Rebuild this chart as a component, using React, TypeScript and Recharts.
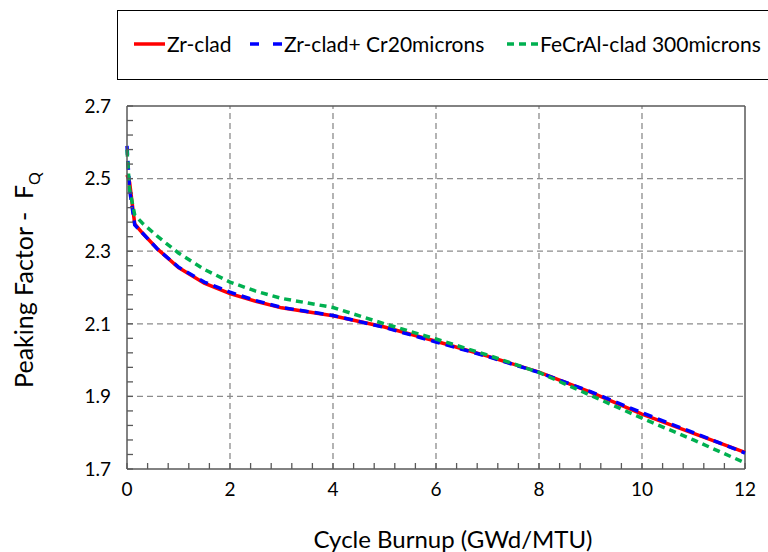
import React from 'react';
import { LineChart, Line, XAxis, YAxis, ReferenceLine } from 'recharts';

const burnup = [0, 0.05, 0.15, 0.3, 0.6, 1, 1.5, 2, 2.5, 3, 4, 5, 6, 7, 8, 9, 10, 11, 12];
const zrClad = [2.51, 2.49, 2.375, 2.35, 2.305, 2.255, 2.212, 2.183, 2.162, 2.144, 2.122, 2.091, 2.052, 2.011, 1.967, 1.912, 1.851, 1.798, 1.746];
const zrCr = [2.59, 2.47, 2.372, 2.35, 2.305, 2.256, 2.215, 2.187, 2.164, 2.145, 2.123, 2.09, 2.05, 2.01, 1.966, 1.913, 1.855, 1.8, 1.744];
const fecral = [2.58, 2.47, 2.4, 2.377, 2.34, 2.295, 2.25, 2.215, 2.19, 2.17, 2.145, 2.1, 2.058, 2.014, 1.966, 1.903, 1.84, 1.78, 1.717];

const xMajor = [0, 2, 4, 6, 8, 10, 12];
const yMajor = [1.7, 1.9, 2.1, 2.3, 2.5, 2.7];
const xMinor = Array.from({ length: 31 }, (_, i) => Math.round(i * 0.4 * 100) / 100);
const yMinor = Array.from({ length: 26 }, (_, i) => Math.round((1.7 + i * 0.04) * 100) / 100);

const data = burnup.map((b, i) => ({ b, zr: zrClad[i], cr: zrCr[i], fe: fecral[i] }));

const FONT = 'Lato, "Open Sans", sans-serif';
const AXIS = '#595959';

const isMajor = (v: number, list: number[]) => list.some((m) => Math.abs(m - v) < 1e-6);

const legendItems = [
  { label: 'Zr-clad', color: '#ff0000', dash: undefined, x: 16, w: 31 },
  { label: 'Zr-clad+ Cr20microns', color: '#0000ff', dash: '9 14', x: 132, w: 32 },
  { label: 'FeCrAl-clad 300microns', color: '#00b050', dash: '7 5', x: 389, w: 31 },
];

function LegendBox() {
  return (
    <div
      style={{
        position: 'absolute',
        left: 117,
        top: 10,
        width: 650,
        height: 68,
        border: '1px solid #000',
        background: '#fff',
        fontFamily: FONT,
        fontSize: 21,
      }}
    >
      {legendItems.map((it) => (
        <div key={it.label} style={{ position: 'absolute', left: it.x, top: 20, display: 'flex', alignItems: 'center', whiteSpace: 'nowrap' }}>
          <svg width={it.w + 2} height={10}>
            <line x1={0} x2={it.w} y1={5} y2={5} stroke={it.color} strokeWidth={3.5} strokeDasharray={it.dash} />
          </svg>
          <span style={{ color: '#000' }}>{it.label}</span>
        </div>
      ))}
    </div>
  );
}

export default function App() {
  return (
    <div style={{ position: 'absolute', left: 0, top: 0, width: 768, height: 552, background: '#fff', overflow: 'hidden' }}>
      <LineChart width={768} height={552} data={data} margin={{ top: 106, right: 23, bottom: 0, left: 0 }}>
        {xMajor.slice(1, -1).map((v) => (
          <ReferenceLine key={'vx' + v} x={v} stroke="#8c8c8c" strokeDasharray="6 4" strokeWidth={1.3} />
        ))}
        {yMajor.slice(1, -1).map((v) => (
          <ReferenceLine key={'hy' + v} y={v} stroke="#8c8c8c" strokeDasharray="6 4" strokeWidth={1.3} />
        ))}
        <ReferenceLine y={2.7} stroke={AXIS} strokeWidth={1.5} />
        <ReferenceLine x={12} stroke={AXIS} strokeWidth={1.5} />
        <XAxis
          dataKey="b"
          type="number"
          domain={[0, 12]}
          ticks={xMinor}
          interval={0}
          height={83}
          tickSize={-6}
          tickMargin={20}
          tickLine={{ stroke: AXIS, strokeWidth: 1.3 }}
          tickFormatter={(v: number) => (isMajor(v, xMajor) ? String(v) : '')}
          tick={{ fontSize: 19, fill: '#000', fontFamily: FONT }}
          axisLine={{ stroke: AXIS, strokeWidth: 1.5 }}
        />
        <YAxis
          type="number"
          domain={[1.7, 2.7]}
          ticks={yMinor}
          interval={0}
          width={127}
          tickSize={-6}
          tickMargin={22}
          tickLine={{ stroke: AXIS, strokeWidth: 1.3 }}
          tickFormatter={(v: number) => (isMajor(v, yMajor) ? v.toFixed(1) : '')}
          tick={{ fontSize: 19, fill: '#000', fontFamily: FONT }}
          axisLine={{ stroke: AXIS, strokeWidth: 1.5 }}
          allowDataOverflow
        />
        <Line type="linear" dataKey="zr" stroke="#ff0000" strokeWidth={3.5} dot={false} isAnimationActive={false} />
        <Line type="linear" dataKey="cr" stroke="#0000ff" strokeWidth={3.5} strokeDasharray="9 6" dot={false} isAnimationActive={false} />
        <Line type="linear" dataKey="fe" stroke="#00b050" strokeWidth={3.5} strokeDasharray="7 5" dot={false} isAnimationActive={false} />
      </LineChart>
      <svg width={768} height={552} style={{ position: 'absolute', left: 0, top: 0, pointerEvents: 'none' }}>
        <text x={453} y={548} textAnchor="middle" fontSize={24} fill="#000" fontFamily={FONT}>
          Cycle Burnup (GWd/MTU)
        </text>
        <text
          x={33}
          y={280}
          textAnchor="middle"
          fontSize={25}
          fill="#000"
          fontFamily={FONT}
          transform="rotate(-90 33 280)"
          style={{ whiteSpace: 'pre' }}
        >
          {'Peaking Factor -  F'}
          <tspan fontSize={16} dy={7}>Q</tspan>
        </text>
      </svg>
      <LegendBox />
    </div>
  );
}
